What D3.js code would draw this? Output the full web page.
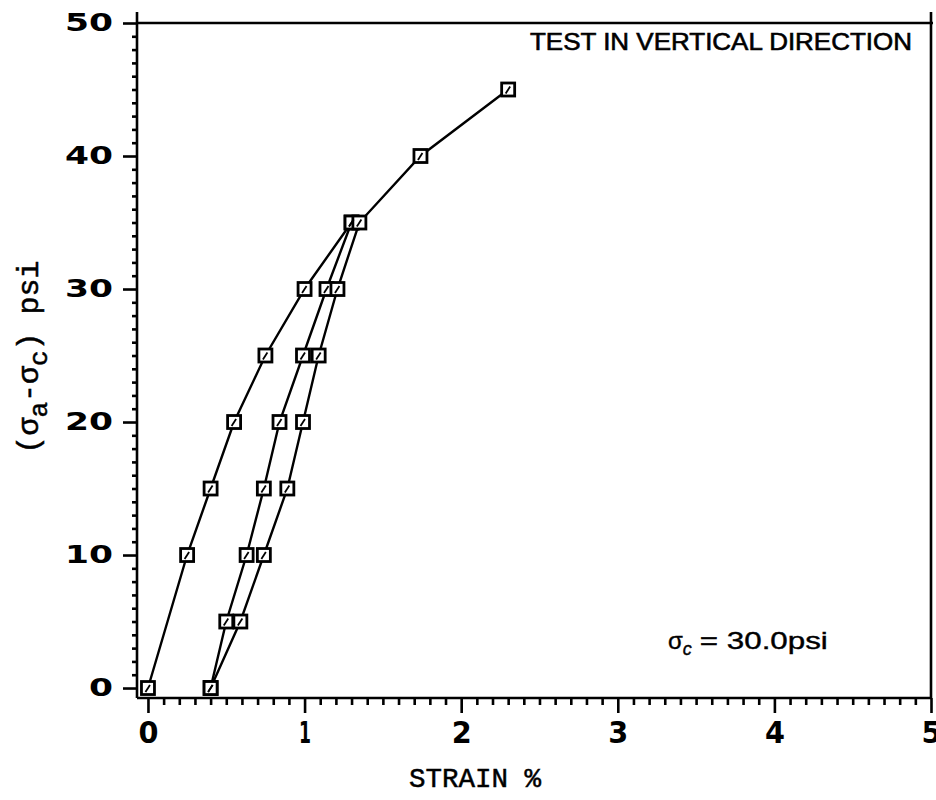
<!DOCTYPE html>
<html>
<head>
<meta charset="utf-8">
<script src="https://cdn.jsdelivr.net/npm/d3@7"></script>
<style>
  html, body { margin: 0; padding: 0; background: #fff; }
  svg { display: block; }
</style>
</head>
<body>
<svg id="chart" width="936" height="800"></svg>
<script>
// Stress–strain curves, three loading branches (strain %, deviator stress psi)
const strainLoad   = [0, 0.25, 0.40, 0.55, 0.75, 1.00, 1.30];
const stressLoad   = [0, 10, 15, 20, 25, 30, 35];
const strainCycle1 = [0.40, 0.50, 0.63, 0.74, 0.84, 0.99, 1.14, 1.30];
const stressCycle1 = [0, 5, 10, 15, 20, 25, 30, 35];
const strainCycle2 = [0.40, 0.59, 0.74, 0.89, 0.99, 1.09, 1.21, 1.35, 1.74, 2.30];
const stressCycle2 = [0, 5, 10, 15, 20, 25, 30, 35, 40, 45];

const xMajor = [0, 1, 2, 3, 4, 5];
const yMajor = [0, 10, 20, 30, 40, 50];

const series = [
  strainLoad.map((s, i) => ({ x: s, y: stressLoad[i] })),
  strainCycle1.map((s, i) => ({ x: s, y: stressCycle1[i] })),
  strainCycle2.map((s, i) => ({ x: s, y: stressCycle2[i] }))
];

const svg = d3.select("#chart");
const plotL = 137, plotR = 931, plotT = 23, plotB = 698;

const x = d3.scaleLinear().domain([-0.07, 5]).range([plotL, plotR]);
const y = d3.scaleLinear().domain([-0.75, 50]).range([plotB, plotT]);

const xMinor = d3.range(1, 50).map(i => i / 10).filter((v, i) => (i + 1) % 10 !== 0);
const yMinor = d3.range(1, 50).filter(v => v % 10 !== 0);

// frame
const frame = svg.append("g").attr("stroke", "#000").attr("stroke-width", 2.6).attr("fill", "none");
frame.append("line").attr("x1", plotL).attr("x2", plotL).attr("y1", plotT - 11).attr("y2", plotB);
frame.append("line").attr("x1", plotL).attr("x2", plotR + 2).attr("y1", plotT).attr("y2", plotT);
frame.append("line").attr("x1", plotR).attr("x2", plotR).attr("y1", plotT - 11).attr("y2", plotB);
frame.append("line").attr("x1", plotL).attr("x2", plotR).attr("y1", plotB).attr("y2", plotB);

// x axis: minor and major ticks below the frame
const xMinorAxis = svg.append("g").attr("transform", `translate(0,${plotB})`)
  .call(d3.axisBottom(x).tickValues(xMinor).tickSize(7).tickFormat(""));
const xMajorAxis = svg.append("g").attr("transform", `translate(0,${plotB})`)
  .call(d3.axisBottom(x).tickValues(xMajor).tickSize(15).tickPadding(8).tickFormat(d3.format("d")));

// y axis: minor and major ticks left of the frame
const yMinorAxis = svg.append("g").attr("transform", `translate(${plotL},0)`)
  .call(d3.axisLeft(y).tickValues(yMinor).tickSize(5).tickFormat(""));
const yMajorAxis = svg.append("g").attr("transform", `translate(${plotL},0)`)
  .call(d3.axisLeft(y).tickValues(yMajor).tickSize(14).tickPadding(10).tickFormat(d3.format("d")));

[xMinorAxis, xMajorAxis, yMinorAxis, yMajorAxis].forEach(g => {
  g.select(".domain").remove();
  g.selectAll(".tick line").attr("stroke", "#000").attr("stroke-width", 2.6);
});

yMajorAxis.selectAll(".tick text")
  .attr("fill", "#000")
  .style("font-family", "'DejaVu Sans', sans-serif")
  .style("font-weight", "bold")
  .style("font-size", "24px")
  .attr("lengthAdjust", "spacingAndGlyphs")
  .attr("textLength", d => String(d).length * 24);

xMajorAxis.selectAll(".tick text")
  .attr("fill", "#000")
  .attr("dy", "0.71em")
  .style("font-family", "'DejaVu Sans', sans-serif")
  .style("font-weight", "bold")
  .style("font-size", "31px")
  .attr("lengthAdjust", "spacingAndGlyphs")
  .attr("textLength", d => (d === 1 ? 12 : 20));

// curves
const line = d3.line().x(d => x(d.x)).y(d => y(d.y));
svg.append("g").selectAll("path").data(series).join("path")
  .attr("d", line)
  .attr("fill", "none")
  .attr("stroke", "#000")
  .attr("stroke-width", 2.4);

// square markers
const pts = series.flat();
const mk = svg.append("g").attr("stroke", "#000").attr("fill", "#fff");
mk.selectAll("rect").data(pts).join("rect")
  .attr("x", d => x(d.x) - 6.5)
  .attr("y", d => y(d.y) - 6.5)
  .attr("width", 13).attr("height", 13)
  .attr("stroke-width", 2.8);
mk.selectAll("path").data(pts).join("path")
  .attr("d", d => `M${x(d.x) - 2.5},${y(d.y) + 4} L${x(d.x) + 2},${y(d.y) - 3}`)
  .attr("stroke-width", 1.8);

// axis titles
svg.append("text")
  .attr("x", 475).attr("y", 787)
  .attr("text-anchor", "middle")
  .attr("textLength", 132).attr("lengthAdjust", "spacingAndGlyphs")
  .style("font-family", "'Liberation Mono', 'Courier New', monospace")
  .style("font-size", "28px")
  .style("stroke", "#000").style("stroke-width", 0.5)
  .text("STRAIN %");

const yt = svg.append("text")
  .attr("transform", "translate(38,357) rotate(-90)")
  .attr("text-anchor", "middle")
  .style("font-family", "'Liberation Mono', 'Courier New', monospace")
  .style("font-size", "30px")
  .style("stroke", "#000").style("stroke-width", 0.5);
yt.append("tspan").text("(σ");
yt.append("tspan").attr("dy", 9).style("font-size", "26px").text("a");
yt.append("tspan").attr("dy", -9).text("-σ");
yt.append("tspan").attr("dy", 9).style("font-size", "26px").text("c");
yt.append("tspan").attr("dy", -9).text(") psi");

// annotations
svg.append("text")
  .attr("x", 530).attr("y", 50)
  .attr("textLength", 382).attr("lengthAdjust", "spacingAndGlyphs")
  .style("font-family", "'Liberation Sans', Arial, sans-serif")
  .style("font-size", "24px")
  .style("stroke", "#000").style("stroke-width", 0.6)
  .text("TEST IN VERTICAL DIRECTION");

const note = svg.append("text")
  .attr("x", 668).attr("y", 649)
  .style("font-family", "'Liberation Sans', Arial, sans-serif")
  .style("font-size", "24px")
  .style("stroke", "#000").style("stroke-width", 0.4);
note.append("tspan").text("σ");
note.append("tspan").attr("dy", 6).style("font-size", "18px").style("font-style", "italic").text("c");
note.append("tspan").attr("dy", -6).attr("dx", 8)
  .attr("textLength", 128).attr("lengthAdjust", "spacingAndGlyphs")
  .text("= 30.0psi");
</script>
</body>
</html>
